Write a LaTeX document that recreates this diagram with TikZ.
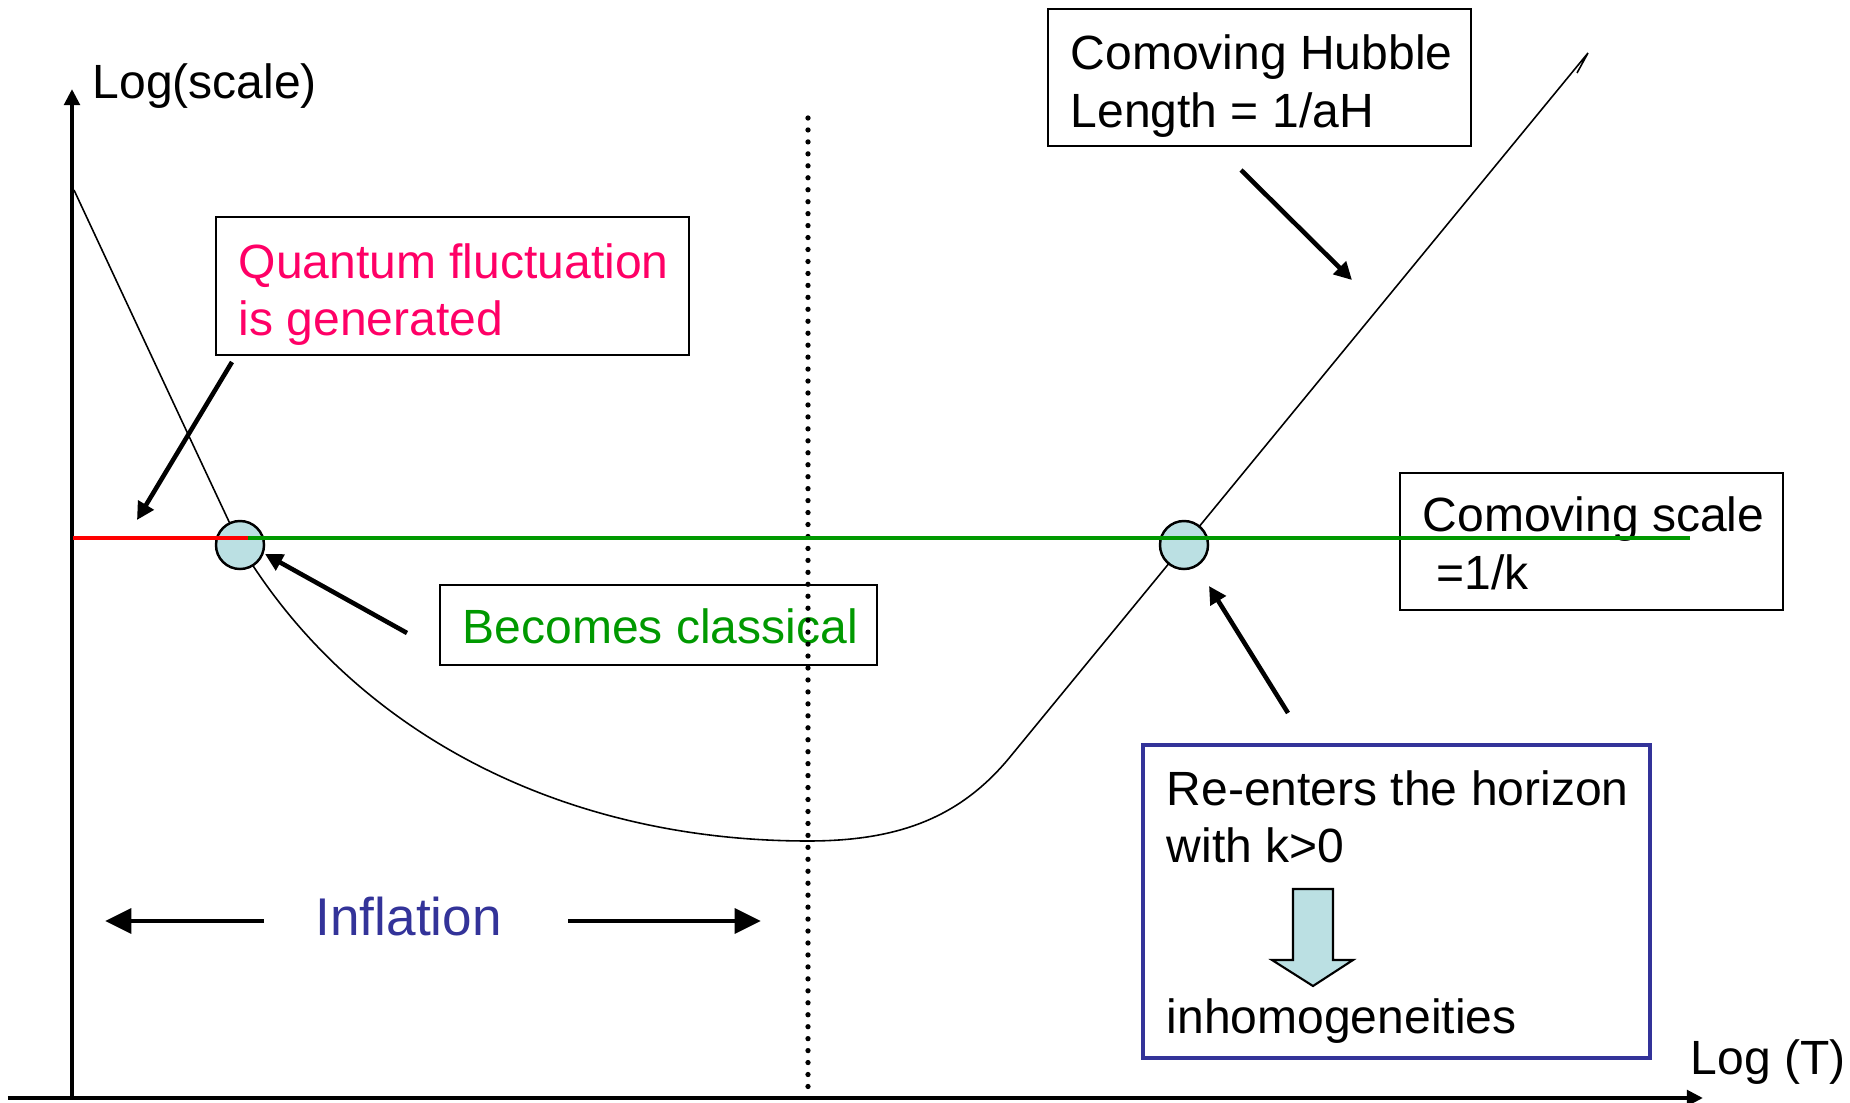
\documentclass[tikz,border=0pt]{standalone}
\usepackage{fontspec}
\setmainfont{Liberation Sans}
\usetikzlibrary{arrows.meta}
\definecolor{qred}{RGB}{255,0,102}
\definecolor{cgreen}{RGB}{0,153,0}
\definecolor{iblue}{RGB}{51,51,153}
\definecolor{cfill}{RGB}{187,224,227}
\definecolor{lred}{RGB}{255,0,0}
\begin{document}
\begin{tikzpicture}[x=0.01cm,y=-0.01cm,
  txt/.style={font=\fontsize{13.66pt}{16.4pt}\selectfont, anchor=base west, inner sep=0pt},
  tbox/.style={draw=black, line width=0.75pt, inner sep=0pt},
  axis/.style={line width=1.4pt, -{Triangle[length=4.6pt,width=4.4pt]}},
  fat/.style={line width=1.3pt, -{Triangle[length=5pt,width=5pt]}},
  infarrow/.style={line width=1.3pt, -{Triangle[length=7.5pt,width=7pt]}},
  curve/.style={line width=0.45pt},
  dot/.style={circle, draw=black, fill=cfill, line width=0.7pt, minimum size=0.48cm, inner sep=0pt}
]
\useasboundingbox (0,0) rectangle (1850,1103);

% axes
\coordinate (xs) at (8,1098);
\coordinate (xe) at (1703,1098);
\coordinate (ys) at (72,1098);
\coordinate (ye) at (72,89);
\draw[axis] (xs) -- (xe);
\draw[axis] (ys) -- (ye);
\node[txt] (ylab) at (92,98) {Log(scale)};
\node[txt] (xlab) at (1690,1074) {Log (T)};

% comoving Hubble length curve
\coordinate (h0) at (74,190);
\coordinate (h1) at (240,545);
\coordinate (h2) at (808,841);
\coordinate (h3) at (1010,757);
\coordinate (hk1) at (1588,53);
\coordinate (hk2) at (1577,73);
\draw[curve] (h0) .. controls (130,310) and (200,460) .. (h1)
  .. controls (350,729) and (558,841) .. (h2)
  .. controls (898,841) and (960,817.9) .. (h3) -- (hk1) -- (hk2);

% boxes
\node[tbox, minimum width=4.23cm, minimum height=1.37cm] (hubble) at (1259.5,77.5) {};
\node[txt] (hubble1) at (1070,69) {Comoving Hubble};
\node[txt] (hubble2) at (1070,127) {Length = 1/aH};

\node[tbox, minimum width=4.73cm, minimum height=1.38cm] (quantum) at (452.5,286) {};
\node[txt, text=qred] (quantum1) at (238,278) {Quantum fluctuation};
\node[txt, text=qred] (quantum2) at (238,335) {is generated};

\node[tbox, minimum width=4.37cm, minimum height=0.8cm] (classical) at (658.5,625) {};
\node[txt, text=cgreen] (classical1) at (462,643) {Becomes classical};

\node[tbox, minimum width=3.83cm, minimum height=1.37cm] (comov) at (1591.5,541.5) {};
\node[txt] (comov1) at (1422,531) {Comoving scale};
\node[txt] (comov2) at (1436,589) {=1/k};

\node[draw=iblue, line width=1.3pt, inner sep=0pt, minimum width=5.07cm, minimum height=3.13cm] (reenter) at (1396.5,901.5) {};
\node[txt] (re1) at (1166,805) {Re-enters the horizon};
\node[txt] (re2) at (1166,862) {with k>0};
\node[txt] (inh) at (1166,1033) {inhomogeneities};
\draw[fill=cfill, line width=0.6pt] (1293,889) -- (1333,889) -- (1333,960) -- (1353,960) -- (1313,986) -- (1272,960) -- (1293,960) -- cycle;

% dotted separator
\coordinate (dt) at (808,118);
\coordinate (db) at (808,1097);
\draw[line width=1.5pt, line cap=round, dash pattern=on 0pt off 3.4pt] (dt) -- (db);

% crossing points
\node[dot] (c1) at (240,545) {};
\node[dot] (c2) at (1184,545) {};

% comoving scale line
\coordinate (ls) at (73,538);
\coordinate (lm) at (248,538);
\coordinate (le) at (1690,538);
\draw[lred, line width=1.4pt] (ls) -- (lm);
\draw[cgreen, line width=1.4pt] (lm) -- (le);

% pointer arrows
\coordinate (qa) at (232,362); \coordinate (qb) at (137,520);
\draw[fat] (qa) -- (qb);
\coordinate (ba) at (407,633); \coordinate (bb) at (265,554);
\draw[fat] (ba) -- (bb);
\coordinate (ha) at (1241,170); \coordinate (hb) at (1352,280);
\draw[fat] (ha) -- (hb);
\coordinate (ra) at (1288,713); \coordinate (rb) at (1209,586);
\draw[fat] (ra) -- (rb);

% inflation
\node[font=\fontsize{15.1pt}{18pt}\selectfont, text=iblue, anchor=base west, inner sep=0pt] (infl) at (315,935) {Inflation};
\coordinate (il1) at (264,921); \coordinate (il2) at (105,921);
\coordinate (ir1) at (568,921); \coordinate (ir2) at (761,921);
\draw[infarrow] (il1) -- (il2);
\draw[infarrow] (ir1) -- (ir2);
\end{tikzpicture}
\end{document}
